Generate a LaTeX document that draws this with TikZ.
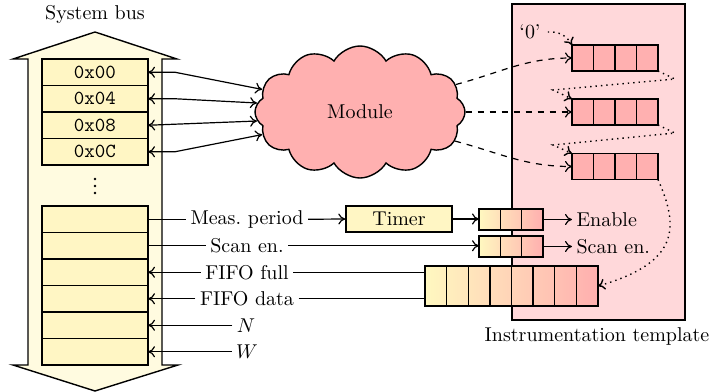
\documentclass[tikz,border=0pt]{standalone}
\usetikzlibrary{shapes.symbols,arrows.meta,calc}
\definecolor{busfill}{HTML}{FFFBE0}
\definecolor{regfill}{HTML}{FFF6C4}
\definecolor{modfill}{HTML}{FFB0B0}
\definecolor{tplfill}{HTML}{FFD8DA}
\definecolor{cellfill}{HTML}{FFB0B0}
\definecolor{gradlo}{HTML}{FFF8C0}
\definecolor{gradhi}{HTML}{FFAFAF}
\begin{document}
\begin{tikzpicture}[x=0.5pt,y=-0.5pt,>={To[length=3.5pt,width=5.5pt]},line width=0.6pt,
  regbox/.style={draw,line width=0.7pt,fill=regfill,minimum width=53pt,minimum height=13.25pt,inner sep=0pt,outer sep=0pt,font=\ttfamily},
  cellrow/.style={draw,line width=0.7pt,fill=cellfill,minimum width=43pt,minimum height=13pt,inner sep=0pt,outer sep=0pt},
  gradrow/.style={draw,line width=0.7pt,left color=gradlo,right color=gradhi,inner sep=0pt,outer sep=0pt},
  sig/.style={inner sep=2pt},
  dotarrow/.style={->,dotted,line width=0.7pt}]
\useasboundingbox (0,0) rectangle (709,392);

% system bus: double-headed arrow
\draw[line width=0.7pt,fill=busfill] (95,32) -- (177,59) -- (162,59) -- (162,365) -- (178,365)
  -- (95,391) -- (13,365) -- (28,365) -- (28,59) -- (13,59) -- cycle;
\node (buslbl) at (95,14) {System bus};

% mapped registers
\node[regbox] (r0) at (95,72.25) {0x00};
\node[regbox] (r1) at (95,98.75) {0x04};
\node[regbox] (r2) at (95,125.25) {0x08};
\node[regbox] (r3) at (95,151.75) {0x0C};
% vertical ellipsis between the two register groups
\foreach \y in {179,186,193}
  \fill (95,\y) circle[radius=0.65pt];
\node[regbox] (s1) at (95,219.25) {};
\node[regbox] (s2) at (95,245.75) {};
\node[regbox] (s3) at (95,272.25) {};
\node[regbox] (s4) at (95,298.75) {};
\node[regbox] (s5) at (95,325.25) {};
\node[regbox] (s6) at (95,351.75) {};

% instrumentation template
\node[draw,line width=0.7pt,fill=tplfill,minimum width=86.5pt,minimum height=158pt,inner sep=0pt] (tmpl) at (598.5,162) {};
\node (tmpllbl) at (597,336) {Instrumentation template};

% module
\node[cloud,cloud puffs=12,cloud puff arc=120,draw,line width=0.7pt,fill=modfill,
  minimum width=105pt,minimum height=66pt,inner sep=0pt] (mod) at (360,112) {Module};

\draw[<->] (r0.east) -- ++(27,0) -- (mod.167);
\draw[<->] (r1.east) -- ++(27,0) -- (mod.175);
\draw[<->] (r2.east) -- (mod.185);
\draw[<->] (r3.east) -- ++(27,0) -- (mod.193);

% scan chain rows
\node[cellrow] (t1) at (615,58) {};
\node[cellrow] (t2) at (615,112) {};
\node[cellrow] (t3) at (615,166.5) {};
\foreach \n in {t1,t2,t3}
  \foreach \k in {1,2,3}
    \draw[line width=0.7pt] ($(\n.north west)!\k/4!(\n.north east)$) -- ($(\n.south west)!\k/4!(\n.south east)$);

\draw[->,dashed] (mod.16) to[out=15,in=180] (t1.west);
\draw[->,dashed] (mod.0) -- (t2.west);
\draw[->,dashed] (mod.-17) to[out=-15,in=180] (t3.west);

\node (zero) at (530,32) {`0'};
\draw[dotarrow] (zero.east) to[out=5,in=120] (t1.north west);
\coordinate (z1a) at (675,79);
\coordinate (z1b) at (553,90);
\coordinate (z2a) at (675,133);
\coordinate (z2b) at (553,145);
\draw[dotarrow] (t1.south east) -- (z1a) -- (z1b) -- (t2.north west);
\draw[dotarrow] (t2.south east) -- (z2a) -- (z2b) -- (t3.north west);

% control path
\node[sig] (meas) at (247,219.25) {Meas.\ period};
\node[sig] (scan) at (247,245.75) {Scan en.};
\node[sig] (ffull) at (247,272.25) {FIFO full};
\node[sig] (fdata) at (247,298.75) {FIFO data};
\node[sig] (nn) at (246,325.25) {$N$};
\node[sig] (ww) at (247,351.75) {$W$};

\node[draw,line width=0.7pt,fill=regfill,minimum width=53pt,minimum height=13pt,inner sep=0pt] (timer) at (399,219) {Timer};
\node[gradrow,minimum width=32pt,minimum height=10.5pt] (en) at (511,219.5) {};
\node[gradrow,minimum width=32pt,minimum height=10.5pt] (ser) at (511,246.5) {};
\node[gradrow,minimum width=86.5pt,minimum height=20pt] (fifo) at (511.5,286) {};
\foreach \n in {en,ser}
  \foreach \k in {1,2}
    \draw[line width=0.7pt] ($(\n.north west)!\k/3!(\n.north east)$) -- ($(\n.south west)!\k/3!(\n.south east)$);
\foreach \k in {1,...,7}
  \draw[line width=0.7pt] ($(fifo.north west)!\k/8!(fifo.north east)$) -- ($(fifo.south west)!\k/8!(fifo.south east)$);

\node[sig,anchor=west] (enout) at (572,219.5) {Enable};
\node[sig,anchor=west] (scanout) at (572,246.5) {Scan en.};

\draw (s1.east) -- (meas.west);
\draw[->] (meas.east) -- (timer.west);
\draw[->] (timer.east) -- (timer.east -| en.west);
\draw[->] (en.east) -- (enout.west);
\draw (s2.east) -- (scan.west);
\draw[->] (scan.east) -- (scan.east -| ser.west);
\draw[->] (ser.east) -- (scanout.west);
\draw[->] (ffull.west) -- (s3.east);
\draw (ffull.east) -- (ffull.east -| fifo.west);
\draw[->] (fdata.west) -- (s4.east);
\draw (fdata.east) -- (fdata.east -| fifo.west);
\draw[->] (nn.west) -- (s5.east);
\draw[->] (ww.west) -- (s6.east);

\draw[dotarrow] (t3.south east) .. controls (678,225) and (682,262) .. (fifo.east);
\end{tikzpicture}
\end{document}
